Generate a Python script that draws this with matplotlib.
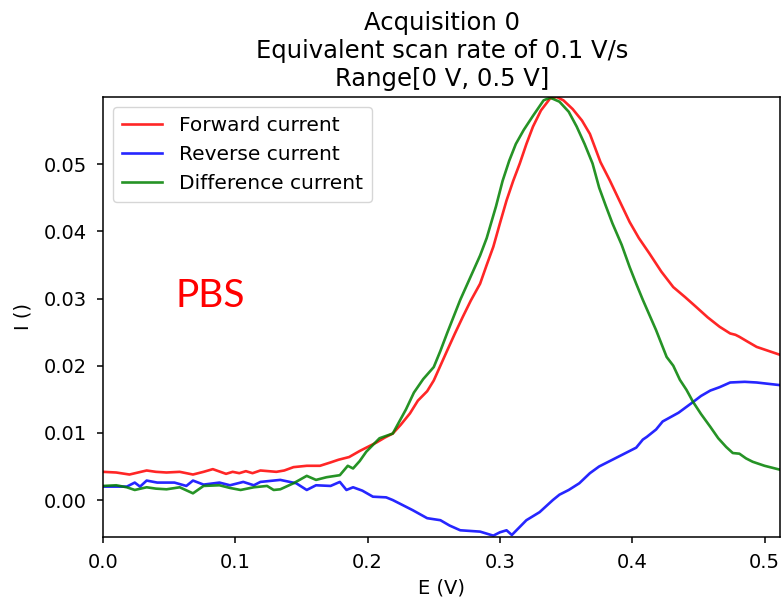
import matplotlib
matplotlib.use("Agg")
import matplotlib.pyplot as plt

# Square-wave voltammetry scan in PBS: potential (V) vs current
fwd_E = [0.000, 0.010, 0.020, 0.033, 0.040, 0.048, 0.058, 0.068, 0.076, 0.083,
         0.093, 0.098, 0.103, 0.108, 0.113, 0.119, 0.131, 0.137, 0.144, 0.154,
         0.164, 0.172, 0.178, 0.186, 0.194, 0.201, 0.207, 0.213, 0.219, 0.225,
         0.232, 0.238, 0.245, 0.250, 0.255, 0.260, 0.266, 0.272, 0.278, 0.285,
         0.290, 0.295, 0.300, 0.305, 0.310, 0.315, 0.320, 0.325, 0.331, 0.338,
         0.343, 0.348, 0.355, 0.362, 0.368, 0.372, 0.376, 0.383, 0.390, 0.398,
         0.405, 0.413, 0.422, 0.431, 0.440, 0.448, 0.457, 0.466, 0.474, 0.478,
         0.481, 0.487, 0.494, 0.503, 0.512]
fwd_I = [0.0042, 0.0041, 0.0038, 0.0044, 0.0042, 0.0041, 0.0042, 0.0038, 0.0042, 0.0046,
         0.0039, 0.0042, 0.0040, 0.0043, 0.0040, 0.0044, 0.0042, 0.0044, 0.0049, 0.0051,
         0.0051, 0.0056, 0.0060, 0.0064, 0.0073, 0.0080, 0.0086, 0.0093, 0.0099, 0.0112,
         0.0129, 0.0148, 0.0162, 0.0178, 0.0200, 0.0222, 0.0248, 0.0273, 0.0297, 0.0322,
         0.0350, 0.0377, 0.0412, 0.0446, 0.0475, 0.0501, 0.0530, 0.0556, 0.0580, 0.0598,
         0.0600, 0.0595, 0.0582, 0.0565, 0.0545, 0.0524, 0.0503, 0.0476, 0.0447, 0.0414,
         0.0390, 0.0367, 0.0340, 0.0317, 0.0302, 0.0288, 0.0272, 0.0258, 0.0248, 0.0246,
         0.0243, 0.0236, 0.0228, 0.0222, 0.0216]

rev_E = [0.000, 0.010, 0.018, 0.024, 0.028, 0.033, 0.041, 0.054, 0.063, 0.068,
         0.076, 0.088, 0.096, 0.106, 0.114, 0.119, 0.134, 0.146, 0.154, 0.161,
         0.172, 0.179, 0.184, 0.189, 0.196, 0.204, 0.214, 0.219, 0.229, 0.234,
         0.245, 0.255, 0.262, 0.270, 0.285, 0.295, 0.300, 0.305, 0.309, 0.315,
         0.320, 0.330, 0.340, 0.345, 0.352, 0.360, 0.368, 0.375, 0.385, 0.395,
         0.403, 0.408, 0.411, 0.418, 0.423, 0.435, 0.446, 0.452, 0.459, 0.466,
         0.474, 0.485, 0.494, 0.503, 0.512]
rev_I = [0.0020, 0.0020, 0.0020, 0.0026, 0.0020, 0.0029, 0.0026, 0.0026, 0.0021, 0.0029,
         0.0023, 0.0026, 0.0022, 0.0027, 0.0022, 0.0027, 0.0030, 0.0025, 0.0015, 0.0022,
         0.0021, 0.0027, 0.0015, 0.0019, 0.0014, 0.0005, 0.0004, 0.0000, -0.0010, -0.0015,
         -0.0027, -0.0030, -0.0038, -0.0045, -0.0047, -0.0053, -0.0048, -0.0045, -0.0052, -0.0040,
         -0.0030, -0.0018, 0.0000, 0.0008, 0.0015, 0.0025, 0.0040, 0.0050, 0.0060, 0.0070,
         0.0078, 0.0090, 0.0094, 0.0105, 0.0117, 0.0130, 0.0146, 0.0155, 0.0163, 0.0168,
         0.0175, 0.0176, 0.0175, 0.0173, 0.0171]

diff_E = [0.000, 0.010, 0.018, 0.024, 0.033, 0.040, 0.048, 0.058, 0.068, 0.076,
          0.088, 0.096, 0.104, 0.114, 0.124, 0.129, 0.134, 0.144, 0.154, 0.161,
          0.169, 0.179, 0.185, 0.189, 0.194, 0.199, 0.209, 0.219, 0.229, 0.235,
          0.242, 0.250, 0.255, 0.260, 0.265, 0.270, 0.280, 0.285, 0.290, 0.297,
          0.302, 0.307, 0.312, 0.318, 0.325, 0.333, 0.338, 0.345, 0.352, 0.358,
          0.364, 0.370, 0.375, 0.380, 0.385, 0.392, 0.398, 0.403, 0.408, 0.418,
          0.426, 0.431, 0.436, 0.441, 0.446, 0.452, 0.459, 0.465, 0.471, 0.476,
          0.481, 0.486, 0.491, 0.500, 0.512]
diff_I = [0.0021, 0.0022, 0.0019, 0.0015, 0.0019, 0.0017, 0.0016, 0.0019, 0.0010, 0.0021,
          0.0022, 0.0018, 0.0015, 0.0019, 0.0021, 0.0015, 0.0016, 0.0025, 0.0036, 0.0030,
          0.0034, 0.0037, 0.0051, 0.0047, 0.0058, 0.0072, 0.0092, 0.0099, 0.0135, 0.0160,
          0.0180, 0.0198, 0.0222, 0.0248, 0.0273, 0.0298, 0.0342, 0.0364, 0.0390, 0.0437,
          0.0475, 0.0505, 0.0530, 0.0551, 0.0572, 0.0595, 0.0599, 0.0593, 0.0578, 0.0556,
          0.0530, 0.0501, 0.0465, 0.0438, 0.0412, 0.0380, 0.0347, 0.0322, 0.0298, 0.0253,
          0.0213, 0.0200, 0.0179, 0.0164, 0.0146, 0.0128, 0.0109, 0.0092, 0.0079, 0.0070,
          0.0069, 0.0062, 0.0057, 0.0051, 0.0045]

series_labels = ["Forward current", "Reverse current", "Difference current"]
title_lines = ["Acquisition 0", "Equivalent scan rate of 0.1 V/s", "Range[0 V, 0.5 V]"]

plt.rcParams["font.family"] = ["DejaVu Sans"]
plt.rcParams["xtick.labelsize"] = 14
plt.rcParams["ytick.labelsize"] = 14
plt.rcParams["axes.linewidth"] = 1.1
plt.rcParams["xtick.major.width"] = 1.1
plt.rcParams["ytick.major.width"] = 1.1
plt.rcParams["xtick.major.size"] = 4.5
plt.rcParams["ytick.major.size"] = 4.5
plt.rcParams["xtick.major.pad"] = 7
plt.rcParams["ytick.major.pad"] = 7

fig = plt.figure(figsize=(7.82, 6.01), dpi=100)
ax = fig.add_axes([0.1317, 0.1065, 0.8663, 0.7321])

lw = 1.9
ax.plot(fwd_E, fwd_I, color="red", lw=lw, alpha=0.85, label=series_labels[0])
ax.plot(rev_E, rev_I, color="blue", lw=lw, alpha=0.85, label=series_labels[1])
ax.plot(diff_E, diff_I, color="green", lw=lw, alpha=0.85, label=series_labels[2])

all_E = fwd_E + rev_E + diff_E
all_I = fwd_I + rev_I + diff_I
ax.set_xlim(min(all_E), max(all_E))
ax.set_ylim(min(all_I) - 0.0002, max(all_I))

ax.set_xticks([0.0, 0.1, 0.2, 0.3, 0.4, 0.5])
ax.set_yticks([0.00, 0.01, 0.02, 0.03, 0.04, 0.05])
ax.set_xticklabels(["0.0", "0.1", "0.2", "0.3", "0.4", "0.5"])
ax.set_yticklabels(["0.00", "0.01", "0.02", "0.03", "0.04", "0.05"])

ax.set_xlabel("E (V)", fontsize=14, labelpad=5)
ax.set_ylabel("I ()", fontsize=14, labelpad=8)
ax.set_title("\n".join(title_lines), fontsize=17.5, pad=8, linespacing=1.22)

ax.legend(loc="upper left", fontsize=14.5, handlelength=2.0, borderpad=0.45,
          labelspacing=0.5, handletextpad=0.8, borderaxespad=0.5)

ax.text(0.1077, 0.5227, "PBS", transform=ax.transAxes, color="red",
        fontsize=28, family=["Lato", "DejaVu Sans"], va="baseline", ha="left")

fig.savefig("out.png", dpi=100)
